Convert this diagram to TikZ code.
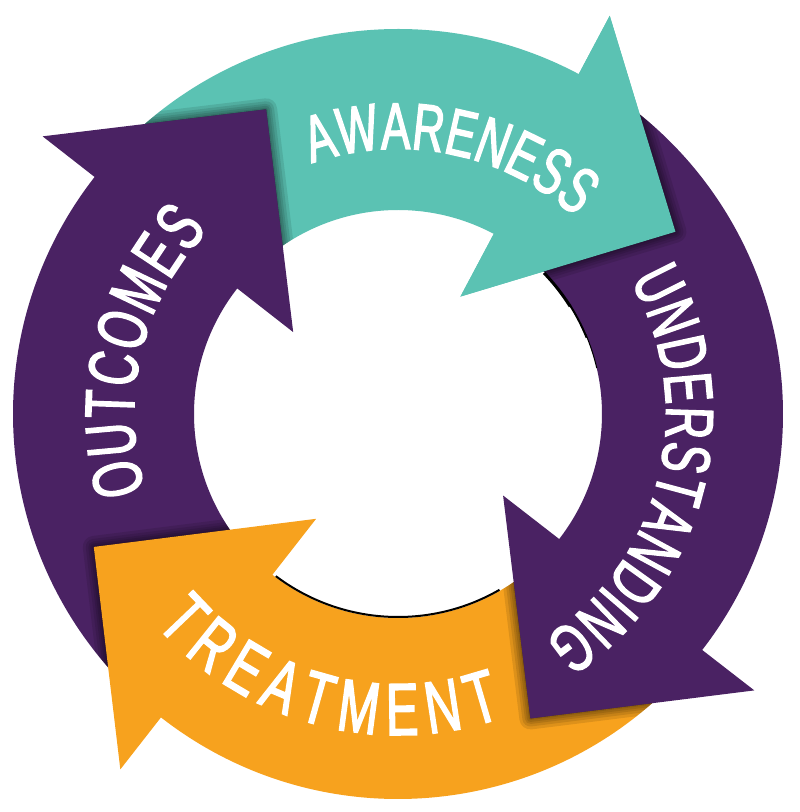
\documentclass[tikz,border=0pt]{standalone}
\usepackage{fontspec}
\newfontfamily\lblfont[FakeStretch=0.66,FakeBold=2]{Liberation Sans}
\usetikzlibrary{decorations.text}
\definecolor{tealc}{HTML}{5BC2B3}
\definecolor{purpc}{HTML}{4A2263}
\definecolor{oranc}{HTML}{F7A21E}
\def\Ro{385}\def\Ri{204}\def\Rbo{451}\def\Rbi{133}\def\Rt{332}
% arrow band: #1 tail angle, #2 head base angle, #3 tip angle
\newcommand\arpath[3]{(#1:\Ro) arc[start angle=#1,end angle=#2,radius=\Ro] -- (#2:\Rbo) -- (#3:\Rt) -- (#2:\Rbi) -- (#2:\Ri) arc[start angle=#2,end angle=#1,radius=\Ri] -- cycle}
\newcommand\halo[2]{\begin{scope}\clip #2;
  \foreach \w in {22,16,11,7,3}{\fill[black,opacity=0.1,draw=black,line width=\w pt,line join=round] #1;}
\end{scope}}
\tikzset{
  lbl/.style n args={2}{decorate,decoration={text along path,text align=fit to path,
    text={|\lblfont\fontsize{#1}{#1}\selectfont\color{white}|#2}}}
}
\begin{document}
\begin{tikzpicture}[x=1pt,y=1pt]
\useasboundingbox (-398,-398) rectangle (402,414);
% teal (awareness)
\fill[tealc] \arpath{136}{62}{33.3};
\halo{\arpath{226}{142}{113.4}}{\arpath{136}{62}{33.3}}
% outcomes
\fill[purpc] \arpath{226}{142}{113.4};
\halo{\arpath{-44}{-128}{-156.4}}{\arpath{226}{142}{113.4}}
% treatment
\fill[oranc] \arpath{-44}{-128}{-156.4};
\draw[black,line width=2] (-60:203) arc[start angle=-60,end angle=-127,radius=203];
\halo{\arpath{56}{-37.8}{-66.5}}{\arpath{-44}{-128}{-156.4}}
% understanding
\fill[purpc] \arpath{56}{-37.8}{-66.5};
\draw[black,line width=3] (44:203) arc[start angle=44,end angle=32,radius=203];
\draw[black,line width=2] (33:203.5) arc[start angle=33,end angle=22,radius=203.5];
\draw[black,line width=1] (23:204) arc[start angle=23,end angle=13,radius=204];
\halo{\arpath{136}{62}{33.3}}{\arpath{56}{-37.8}{-66.5}}
% teal head again on top
\fill[tealc] (58:\Ro) arc[start angle=58,end angle=62,radius=\Ro] -- (62:\Rbo) -- (33.3:\Rt) -- (62:\Rbi) -- (62:\Ri) arc[start angle=62,end angle=58,radius=\Ri] -- cycle;
% labels
\path[lbl={66}{AWARENESS}] (109:265) arc[start angle=109,end angle=48,radius=265];
\path[lbl={68}{UNDERSTANDING}] (30:268) arc[start angle=30,end angle=-57,radius=268];
\path[lbl={74}{TREATMENT}] (-139:321) arc[start angle=-139,end angle=-71,radius=321];
\path[lbl={70}{OUTCOMES}] (197:264) arc[start angle=197,end angle=136,radius=264];
\end{tikzpicture}
\end{document}
